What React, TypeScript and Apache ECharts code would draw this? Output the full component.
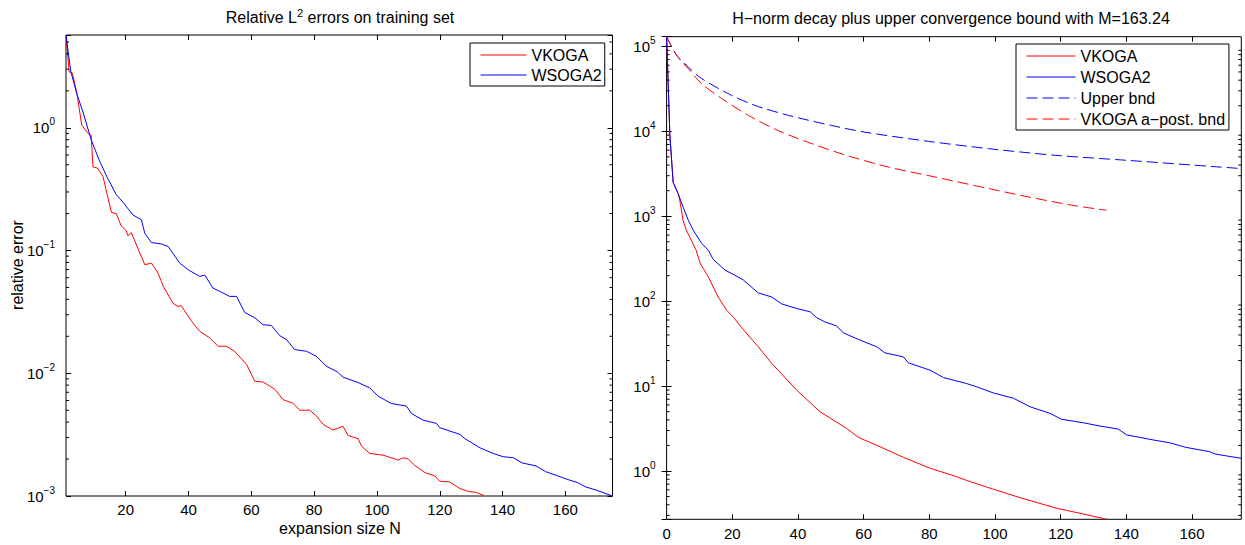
import React, { useEffect, useRef } from 'react';
import * as echarts from 'echarts';

// ---------- data: left panel (relative L2 errors on training set) ----------
const leftVkogaN = [1, 2, 3, 4.5, 6, 8, 9, 9.6, 11, 12.8, 14, 15.5, 17, 18.5, 20.2, 20.7, 21.8, 24.5, 26.1, 28.2, 30.3, 32, 35, 36.7, 37.7, 41, 43.6, 46.8, 49.4, 52.1, 54.7, 58.5, 61.1, 63.7, 67.5, 70.1, 73.2, 75.5, 78.6, 80.8, 82.9, 86, 89.2, 90.8, 94, 95.1, 97.7, 102, 106.8, 108.3, 110, 112, 115.3, 118.4, 120, 123.2, 126.4, 129.1, 131.7, 134];
const leftVkogaErr = [5.7, 2.85, 2.8, 1.9, 1.05, 0.9, 0.87, 0.48, 0.47, 0.4, 0.293, 0.204, 0.2, 0.16, 0.145, 0.132, 0.14, 0.0953, 0.0766, 0.079, 0.0655, 0.051, 0.0373, 0.035, 0.0355, 0.0265, 0.0219, 0.0194, 0.0166, 0.0166, 0.0151, 0.0118, 0.0086, 0.0085, 0.0074, 0.0061, 0.0057, 0.005, 0.005, 0.00447, 0.00383, 0.00344, 0.0037, 0.00311, 0.00293, 0.00255, 0.00222, 0.00215, 0.00196, 0.00205, 0.002, 0.00178, 0.00155, 0.00146, 0.00132, 0.0013, 0.00115, 0.00109, 0.00107, 0.00101];
const leftWsogaN = [1, 2.5, 4.5, 6.5, 9, 11.5, 14, 17, 19, 21, 22.3, 25, 26.1, 28.2, 31.4, 33.5, 37.2, 39.9, 43.6, 45.2, 47.8, 50, 53.1, 55.3, 57.9, 61.2, 63.7, 66.4, 69.1, 71.2, 73.8, 77.6, 80.8, 83.9, 87.3, 89.2, 94, 97.7, 100.4, 104.6, 109.4, 111, 114.7, 119, 120, 126.4, 128, 132.8, 137, 140.2, 143.4, 146.2, 150.6, 153.7, 157.5, 161.2, 163.8, 166.3, 170.1, 175];
const leftWsogaErr = [5.7, 2.9, 1.87, 1.32, 0.8, 0.55, 0.4, 0.285, 0.25, 0.215, 0.195, 0.178, 0.138, 0.116, 0.113, 0.108, 0.079, 0.0697, 0.0615, 0.063, 0.0494, 0.0464, 0.0423, 0.0423, 0.0313, 0.0282, 0.0249, 0.0245, 0.0202, 0.0188, 0.0156, 0.0151, 0.0137, 0.0114, 0.0103, 0.0093, 0.0084, 0.0076, 0.0065, 0.00567, 0.0054, 0.0047, 0.00415, 0.0039, 0.0036, 0.00318, 0.00293, 0.00247, 0.00222, 0.00209, 0.00205, 0.00186, 0.00176, 0.00158, 0.00146, 0.00135, 0.00129, 0.00119, 0.00111, 0.001];

// ---------- data: right panel (H-norm decay + bounds) ----------
const rightVkogaN = [0, 1, 2, 3.5, 4, 5, 6, 7.5, 9, 10.2, 12.7, 14.2, 15.7, 18.3, 20.3, 23.4, 27.9, 32, 39.6, 46.7, 54.8, 58.4, 65, 72.1, 80.2, 88.3, 92.4, 99.5, 107.6, 118.8, 125.9, 134];
const rightVkogaNorm = [130000, 9000, 2500, 1850, 1550, 900, 684, 523, 398, 280, 193, 147, 112, 78, 65, 46, 29, 18.5, 8.97, 4.99, 3.18, 2.49, 1.93, 1.45, 1.08, 0.857, 0.75, 0.61, 0.486, 0.364, 0.318, 0.27];
const rightWsogaN = [0, 1, 2, 3.5, 5, 6.6, 8.1, 10.7, 12.7, 14.2, 17.8, 20.8, 23.4, 27.9, 32, 35, 39.6, 43.7, 45.7, 48.2, 51.8, 53.8, 58.4, 64, 66.5, 72.1, 73.6, 80.2, 84.3, 91.4, 94.4, 99.5, 105.6, 110.7, 116.7, 120.3, 126.9, 132, 137.5, 140.1, 144.1, 147.1, 153.2, 158.1, 165.3, 167.2, 175];
const rightWsogaNorm = [130000, 9000, 2500, 1850, 1290, 898, 684, 478, 398, 310, 232, 202, 177, 125, 112, 93, 82, 75, 64, 57, 51, 42.4, 35.4, 29, 24.6, 22.1, 18.8, 15.4, 12.6, 10.7, 9.8, 8.3, 7.2, 5.7, 4.78, 4.06, 3.7, 3.38, 3.12, 2.66, 2.49, 2.36, 2.15, 1.9, 1.69, 1.58, 1.41];
const upperBndN = [0, 3.1, 6.6, 10.7, 19.8, 26.9, 37.1, 50.3, 60.4, 79.7, 98, 118.3, 139.9, 175];
const upperBnd = [130000, 78300, 57100, 41700, 26500, 20200, 15400, 11700, 9770, 7620, 6250, 5220, 4560, 3640];
const apostBndN = [0, 3.1, 6.6, 10.7, 16.8, 24.9, 34, 44.2, 55.3, 67.5, 81.7, 98, 110.1, 123.4, 134];
const apostBnd = [130000, 78300, 54600, 36300, 24300, 15400, 10200, 7160, 5130, 3800, 2900, 2120, 1690, 1350, 1175];

// ---------- ticks / labels ----------
const leftXTicks = [20, 40, 60, 80, 100, 120, 140, 160];
const rightXTicks = [0, 20, 40, 60, 80, 100, 120, 140, 160];
const minorMultipliers = [2, 3, 4, 5, 6, 7, 8, 9];
const leftDecades = [-3, -2, -1, 0];
const rightDecades = [-1, 0, 1, 2, 3, 4, 5];

const leftTitle = 'Relative L{sup|2} errors on training set';
const rightTitle = 'H\u2212norm decay plus upper convergence bound with M=163.24';
const leftYName = 'relative error';
const leftXName = 'expansion size N';
const legendNames = ['VKOGA', 'WSOGA2', 'Upper bnd', 'VKOGA a\u2212post. bnd'];

const FONT = '"Liberation Sans", Arial, Helvetica, sans-serif';
const RED = '#ff0000';
const BLUE = '#0000ff';
const legendColors = [RED, BLUE, BLUE, RED];
const legendDashed = [false, false, true, true];

const pairs = (xs: number[], ys: number[]) => xs.map((x, i) => [x, ys[i]]);

const minorData = (decades: number[], x: number) =>
  decades.flatMap((k) => minorMultipliers.map((m) => [x, m * Math.pow(10, k)]));

const powLabel = (v: number) => {
  const l = Math.log10(v);
  const e = Math.round(l);
  if (Math.abs(l - e) > 1e-6) return '';
  const s = e < 0 ? '\u2212' + -e : String(e);
  return '10{sup|' + s + '}';
};

const labelRich = {
  sup: { fontSize: 10, lineHeight: 10, verticalAlign: 'top', fontFamily: FONT, color: '#000' },
};

const DASH = [11, 5];

function minorRender(params: any, api: any) {
  const cs = params.coordSys;
  const pt = api.coord([api.value(0), api.value(1)]);
  const y = pt[1];
  if (y < cs.y + 0.5 || y > cs.y + cs.height - 0.5) return null;
  const st = { stroke: '#000', lineWidth: 1 };
  return {
    type: 'group',
    children: [
      { type: 'line', shape: { x1: cs.x, y1: y, x2: cs.x + 3, y2: y }, style: st },
      { type: 'line', shape: { x1: cs.x + cs.width - 3, y1: y, x2: cs.x + cs.width, y2: y }, style: st },
    ],
  };
}

export default function App() {
  const ref = useRef<HTMLDivElement>(null);
  useEffect(() => {
    if (!ref.current) return;
    const chart = echarts.init(ref.current, undefined, { renderer: 'svg' });

    const xAxisBase = (grid: number, min: number, ticks: number[], pos: string, showLabel: boolean, margin: number) => ({
      gridIndex: grid,
      type: 'value',
      min,
      max: 175,
      position: pos,
      axisLine: { show: false },
      axisTick: { show: true, inside: true, length: 5, customValues: ticks, lineStyle: { color: '#000', width: 1 } },
      axisLabel: { show: showLabel, customValues: ticks, margin, color: '#000', fontSize: 15, fontFamily: FONT },
      splitLine: { show: false },
    });

    const yAxisBase = (grid: number, min: number, max: number, pos: string, showLabel: boolean) => ({
      gridIndex: grid,
      type: 'log',
      logBase: 10,
      min,
      max,
      position: pos,
      axisLine: { show: false },
      axisTick: { show: true, inside: true, length: 5, lineStyle: { color: '#000', width: 1 } },
      axisLabel: {
        show: showLabel,
        formatter: powLabel,
        rich: labelRich,
        margin: 11,
        color: '#000',
        fontSize: 15,
        lineHeight: 22,
        fontFamily: FONT,
      },
      splitLine: { show: false },
      minorTick: { show: false },
    });

    const line = (name: string, xi: number, data: number[][], color: string, dashed: boolean) => ({
      type: 'line',
      name,
      xAxisIndex: xi,
      yAxisIndex: xi === 0 ? 0 : 2,
      data,
      symbol: 'none',
      smooth: dashed ? 0.3 : false,
      lineStyle: { color, width: 1, type: dashed ? DASH : 'solid' },
      itemStyle: { color },
      z: 3,
    });

    const legendItems = (count: number) =>
      legendNames.slice(0, count).map((name, i) => ({
        name,
        lineStyle: { color: legendColors[i], width: 1, type: legendDashed[i] ? DASH : 'solid' },
        itemStyle: { opacity: 0, borderWidth: 0 },
      }));

    const legendCommon = {
      orient: 'vertical',
      itemWidth: 46,
      itemHeight: 13,
      itemGap: 4,
      padding: [4, 3, 3, 10],
      borderColor: '#000',
      borderWidth: 1,
      backgroundColor: '#fff',
      selectedMode: false,
      itemStyle: { opacity: 0, borderWidth: 0 },
      textStyle: { fontSize: 16, lineHeight: 16, color: '#000', fontFamily: FONT },
    };

    const option: any = {
      animation: false,
      backgroundColor: '#fff',
      textStyle: { fontFamily: FONT },
      grid: [
        { left: 66, top: 35, width: 546.5, height: 461, show: true, borderColor: '#000', borderWidth: 1, backgroundColor: '#fff' },
        { left: 666.6, top: 36.7, width: 574.7, height: 482.6, show: true, borderColor: '#000', borderWidth: 1, backgroundColor: '#fff' },
      ],
      xAxis: [
        xAxisBase(0, 1, leftXTicks, 'bottom', true, 6),
        xAxisBase(0, 1, leftXTicks, 'top', false, 6),
        xAxisBase(1, 0, rightXTicks, 'bottom', true, 7),
        xAxisBase(1, 0, rightXTicks, 'top', false, 7),
      ],
      yAxis: [
        yAxisBase(0, 0.001, 5.7, 'left', true),
        yAxisBase(0, 0.001, 5.7, 'right', false),
        yAxisBase(1, 0.27, 130000, 'left', true),
        yAxisBase(1, 0.27, 130000, 'right', false),
      ],
      legend: [
        { ...legendCommon, data: legendItems(2), left: 470, top: 43 },
        { ...legendCommon, itemWidth: 49, itemGap: 5, data: legendItems(4), left: 1016, top: 44 },
      ],
      series: [
        line(legendNames[0], 0, pairs(leftVkogaN, leftVkogaErr), RED, false),
        line(legendNames[1], 0, pairs(leftWsogaN, leftWsogaErr), BLUE, false),
        line(legendNames[0], 2, pairs(rightVkogaN, rightVkogaNorm), RED, false),
        line(legendNames[1], 2, pairs(rightWsogaN, rightWsogaNorm), BLUE, false),
        line(legendNames[2], 2, pairs(upperBndN, upperBnd), BLUE, true),
        line(legendNames[3], 2, pairs(apostBndN, apostBnd), RED, true),
        {
          type: 'custom',
          xAxisIndex: 0,
          yAxisIndex: 0,
          data: minorData(leftDecades, 50),
          renderItem: minorRender,
          silent: true,
          clip: false,
          z: 4,
        },
        {
          type: 'custom',
          xAxisIndex: 2,
          yAxisIndex: 2,
          data: minorData(rightDecades, 50),
          renderItem: minorRender,
          silent: true,
          clip: false,
          z: 4,
        },
      ],
      graphic: [
        {
          type: 'text',
          x: 340,
          y: 17,
          style: {
            text: leftTitle,
            align: 'center',
            verticalAlign: 'middle',
            fontSize: 16,
            lineHeight: 20,
            fontFamily: FONT,
            fill: '#000',
            rich: { sup: { fontSize: 11, lineHeight: 10, verticalAlign: 'top', fontFamily: FONT, fill: '#000' } },
          },
        },
        {
          type: 'text',
          x: 951,
          y: 18,
          style: { text: rightTitle, align: 'center', verticalAlign: 'middle', fontSize: 16, fontFamily: FONT, fill: '#000' },
        },
        {
          type: 'text',
          x: 17,
          y: 265,
          rotation: Math.PI / 2,
          style: { text: leftYName, align: 'center', verticalAlign: 'middle', fontSize: 16, fontFamily: FONT, fill: '#000' },
        },
        {
          type: 'text',
          x: 340,
          y: 528,
          style: { text: leftXName, align: 'center', verticalAlign: 'middle', fontSize: 16, fontFamily: FONT, fill: '#000' },
        },
      ],
    };

    chart.setOption(option);
    return () => chart.dispose();
  }, []);

  return <div ref={ref} style={{ position: 'absolute', left: 0, top: 0, width: 1245, height: 545 }} />;
}
